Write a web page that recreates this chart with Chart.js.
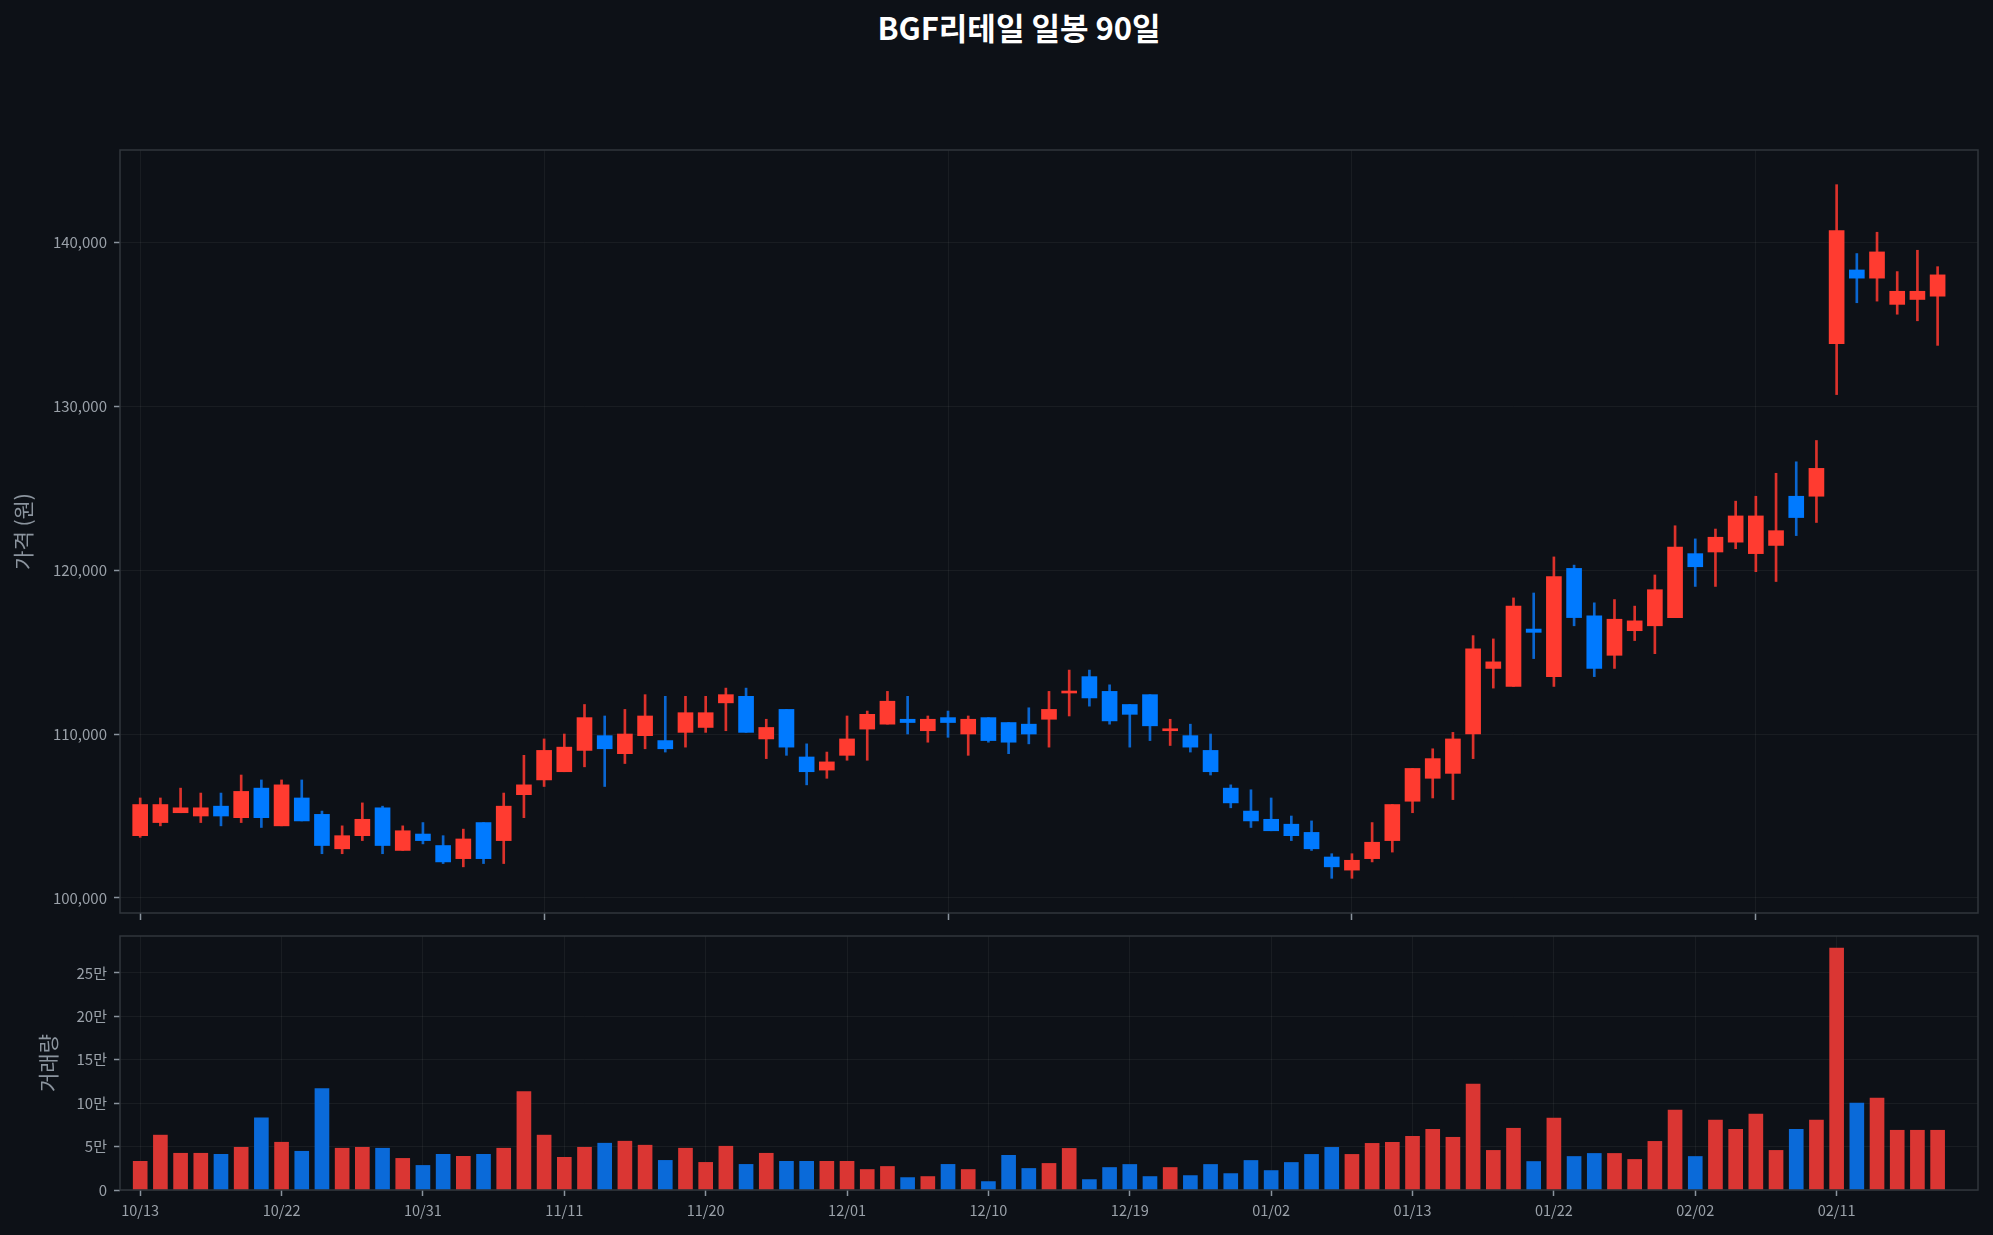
<!DOCTYPE html>
<html><head><meta charset="utf-8">
<script src="https://cdn.jsdelivr.net/npm/chart.js@4.4.1/dist/chart.umd.min.js"></script>
<style>
html,body{margin:0;padding:0;background:#0d1117;width:1993px;height:1235px;overflow:hidden;}
#title{position:absolute;left:1019px;top:5px;transform:translateX(-50%);color:#ffffff;font-weight:bold;font-size:31px;font-family:"Noto Sans CJK KR","Noto Sans",sans-serif;white-space:nowrap;line-height:44px;}
#wrapTop{position:absolute;left:0;top:0;width:1993px;height:930px;}
#wrapBot{position:absolute;left:0;top:920px;width:1993px;height:315px;}
canvas{display:block;}
</style></head><body>
<div id="title">BGF리테일 일봉 90일</div>
<div id="wrapTop"><canvas id="price" width="1993" height="930"></canvas></div>
<div id="wrapBot"><canvas id="vol" width="1993" height="315"></canvas></div>
<script>
const dates = ["10/13","10/14","10/15","10/16","10/17","10/20","10/21","10/22","10/23","10/24",
"10/27","10/28","10/29","10/30","10/31","11/03","11/04","11/05","11/06","11/07",
"11/10","11/11","11/12","11/13","11/14","11/17","11/18","11/19","11/20","11/21",
"11/24","11/25","11/26","11/27","11/28","12/01","12/02","12/03","12/04","12/05",
"12/08","12/09","12/10","12/11","12/12","12/15","12/16","12/17","12/18","12/19",
"12/22","12/23","12/24","12/26","12/29","12/30","01/02","01/05","01/06","01/07",
"01/08","01/09","01/12","01/13","01/14","01/15","01/16","01/19","01/20","01/21",
"01/22","01/23","01/26","01/27","01/28","01/29","01/30","02/02","02/03","02/04",
"02/05","02/06","02/09","02/10","02/11","02/12","02/13","02/19","02/20","02/23"];

const opens = [103800,104600,105200,105000,105600,104900,106700,104400,106100,105100,
103000,103800,105500,102900,103900,103200,102400,104600,103500,106300,
107200,107700,109000,109900,108800,109900,109600,110100,110400,111900,
112300,109700,111500,108600,107800,108700,110300,110600,110900,110200,
111000,110000,111000,110700,110600,110900,112500,113500,112600,111800,
112400,110200,109900,109000,106700,105300,104800,104500,104000,102500,
101700,102400,103500,105900,107300,107600,110000,114000,112900,116400,
113500,120100,117200,114800,116300,116600,117100,121000,121100,121700,
121000,121500,124500,124500,133800,138300,137800,136200,136500,136700];

const highs = [106100,106100,106700,106400,106400,107500,107200,107200,107200,105300,
104400,105800,105600,104400,104600,103800,104200,104600,106400,108700,
109700,110000,111800,111100,111500,112400,112300,112300,112300,112800,
112800,110900,111500,109400,108900,111100,111400,112600,112300,111100,
111400,111100,111000,110700,111600,112600,113900,113900,113000,111800,
112400,110900,110600,110000,106900,106600,106100,105000,104700,102700,
102700,104600,105700,107900,109100,110100,116000,115800,118300,118600,
120800,120300,118000,118200,117800,119700,122700,121900,122500,124200,
124500,125900,126600,127900,143500,139300,140600,138200,139500,138500];

const lows = [103700,104400,105200,104600,104400,104600,104300,104400,104700,102700,
102700,103500,102700,102900,103300,102100,101900,102100,102100,104900,
106800,107700,108000,106800,108200,109100,108900,109200,110100,110200,
110100,108500,108700,106900,107300,108400,108400,110600,110000,109500,
109800,108700,109500,108800,109400,109200,111100,111700,110600,109200,
109600,109300,108900,107500,105500,104300,104100,103500,102900,101200,
101200,102200,102800,105200,106100,106000,108500,112800,112900,114600,
112900,116600,113500,114000,115700,114900,117100,119000,119000,121300,
119900,119300,122100,122900,130700,136300,136400,135600,135200,133700];

const closes = [105700,105700,105500,105500,105000,106500,104900,106900,104700,103200,
103800,104800,103200,104100,103500,102200,103600,102400,105600,106900,
109000,109200,111000,109100,110000,111100,109100,111300,111300,112400,
110100,110400,109200,107700,108300,109700,111200,112000,110700,110900,
110700,110900,109600,109500,110000,111500,112600,112200,110800,111200,
110500,110300,109200,107700,105800,104700,104100,103800,103000,101900,
102300,103400,105700,107900,108500,109700,115200,114400,117800,116200,
119600,117100,114000,117000,116900,118800,121400,120200,122000,123300,
123300,122400,123200,126200,140700,137800,139400,137000,137000,138000];

const volumes = [33000,63200,42300,42300,41100,49200,83000,55000,44600,116700,
48100,49200,48100,36400,28300,41100,38800,41100,48100,113200,
63200,37600,49200,53900,56200,51600,34100,48100,31800,50400,
29500,42300,33000,33000,33000,33000,23600,27100,14300,15500,
29500,23600,9700,39900,24800,30600,47900,12000,25900,29400,
15500,25900,16600,29400,18900,34000,22400,31700,41000,49100,
41000,53700,54900,61800,69900,60700,122100,45600,71100,32800,
82700,38600,42100,42100,35200,56000,92000,38600,80400,69900,
87300,45600,69900,80400,278600,100100,105900,68800,68800,68800];

const priceTicks = [100000,110000,120000,130000,140000];
const volumeTicks = [0,50000,100000,150000,200000,250000];
const priceXTickIdx = [0,20,40,60,80];
const dateTickIdx = [0,7,14,21,28,35,42,49,56,63,70,77,84];

const UP_BODY = '#ff3b30', DOWN_BODY = '#007aff';
const UP_WICK = '#dc322b', DOWN_WICK = '#0a66d0';
const UP_VOL = '#da3633', DOWN_VOL = '#0a6ad9';
const GRID = 'rgba(255,255,255,0.05)';
const TICKC = '#8b949e';
const LABELC = '#9aa1a9';

Chart.defaults.font.family = '"Noto Sans CJK KR","Noto Sans",sans-serif';

const isUp = opens.map((o,i)=>closes[i] >= o);

const frame = {
  id:'frame',
  afterDraw(chart){
    const {ctx, chartArea:a} = chart;
    ctx.save();
    ctx.strokeStyle = '#30363d';
    ctx.lineWidth = 1.5;
    ctx.strokeRect(a.left, a.top, a.right-a.left, a.bottom-a.top);
    ctx.restore();
  }
};

function noPad(s){ s.paddingTop = 0; s.paddingBottom = 0; }

new Chart(document.getElementById('price'), {
  type:'bar',
  data:{datasets:[
    {label:'body', data: opens.map((o,i)=>({x:i, y:[o, closes[i]]})),
     backgroundColor: isUp.map(u=>u?UP_BODY:DOWN_BODY), barThickness:15, grouped:false, order:0, minBarLength:2},
    {label:'wick', data: lows.map((l,i)=>({x:i, y:[l, highs[i]]})),
     backgroundColor: isUp.map(u=>u?UP_WICK:DOWN_WICK), barThickness:2, grouped:false, order:1}
  ]},
  options:{
    responsive:false, animation:false,
    layout:{padding:{left:6,right:15,top:150,bottom:0}},
    plugins:{legend:{display:false},tooltip:{enabled:false},title:{display:false}},
    scales:{
      x:{type:'linear', min:-1, max:91, offset:false,
        grid:{offset:false, color:GRID, lineWidth:1, drawTicks:true, tickLength:7, tickColor:TICKC, tickWidth:1.5},
        border:{display:false},
        ticks:{display:false},
        afterBuildTicks:s=>{ s.ticks = priceXTickIdx.map(v=>({value:v})); },
        afterFit:s=>{ s.height = 17; s.paddingLeft = 0; s.paddingRight = 0; }
      },
      y:{type:'linear', min:99085, max:145615,
        grid:{color:GRID, lineWidth:1, tickLength:6, tickColor:TICKC, tickWidth:1.5},
        border:{display:false},
        ticks:{color:LABELC, font:{size:15}, padding:7, callback:v=>v.toLocaleString('en-US')},
        afterBuildTicks:s=>{ s.ticks = priceTicks.map(v=>({value:v})); },
        title:{display:true, text:'가격 (원)', color:TICKC, font:{size:21}, padding:{top:4,bottom:4}},
        afterFit:s=>{ s.width = 114; noPad(s); }
      }
    }
  },
  plugins:[frame]
});

new Chart(document.getElementById('vol'), {
  type:'bar',
  data:{datasets:[
    {label:'volume', data: volumes.map((v,i)=>({x:i, y:v})),
     backgroundColor: isUp.map(u=>u?UP_VOL:DOWN_VOL), barThickness:14, grouped:false}
  ]},
  options:{
    responsive:false, animation:false,
    layout:{padding:{left:31,right:15,top:16,bottom:0}},
    plugins:{legend:{display:false},tooltip:{enabled:false},title:{display:false}},
    scales:{
      x:{type:'linear', min:-1, max:91, offset:false,
        grid:{offset:false, color:GRID, lineWidth:1, drawTicks:true, tickLength:6, tickColor:TICKC, tickWidth:1.5},
        border:{display:false},
        ticks:{color:LABELC, font:{size:14.5}, padding:6, autoSkip:false, maxRotation:0, callback:v=>dates[v]},
        afterBuildTicks:s=>{ s.ticks = dateTickIdx.map(v=>({value:v})); },
        afterFit:s=>{ s.height = 45; s.paddingLeft = 0; s.paddingRight = 0; }
      },
      y:{type:'linear', min:0, max:292500,
        grid:{color:GRID, lineWidth:1, tickLength:6, tickColor:TICKC, tickWidth:1.5},
        border:{display:false},
        ticks:{color:LABELC, font:{size:15}, padding:7, callback:v=> v===0 ? '0' : (v/10000)+'만'},
        afterBuildTicks:s=>{ s.ticks = volumeTicks.map(v=>({value:v})); },
        title:{display:true, text:'거래량', color:TICKC, font:{size:21}, padding:{top:4,bottom:4}},
        afterFit:s=>{ s.width = 89; noPad(s); }
      }
    }
  },
  plugins:[frame]
});
</script>
</body></html>
